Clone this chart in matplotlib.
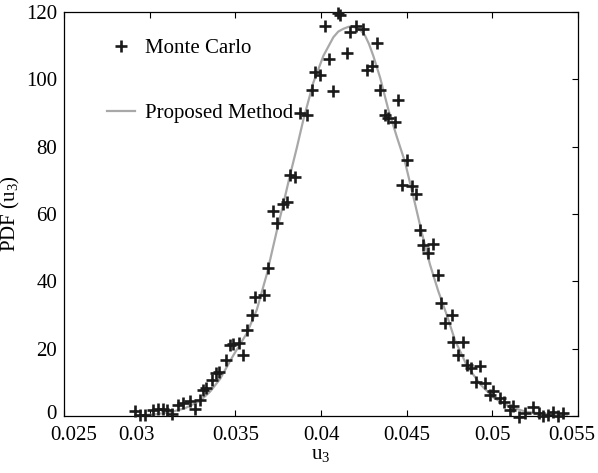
import matplotlib
matplotlib.use("Agg")
import matplotlib.pyplot as plt
import matplotlib.transforms as mtransforms

# Monte Carlo
mc_x = [0.02912, 0.02944, 0.02973, 0.03022, 0.03050, 0.03080, 0.03101, 0.03133,
        0.03167, 0.03195, 0.03235, 0.03265, 0.03294, 0.03314, 0.03326, 0.03364,
        0.03387, 0.03405, 0.03443, 0.03466, 0.03489, 0.03523, 0.03542, 0.03568,
        0.03596, 0.03615, 0.03667, 0.03693,
        0.03722, 0.03745, 0.03780, 0.03803, 0.03819, 0.03848,
        0.03878, 0.03917, 0.03946, 0.03965, 0.03994, 0.04023, 0.04049, 0.04072,
        0.04101, 0.04108, 0.04150, 0.04169, 0.04204, 0.04247, 0.04270, 0.04296,
        0.04325, 0.04344, 0.04374, 0.04393, 0.04432, 0.04451,
        0.04500, 0.04471, 0.04530, 0.04555, 0.04578, 0.04597, 0.04652, 0.04627,
        0.04685, 0.04699, 0.04763, 0.04724, 0.04769, 0.04827, 0.04801, 0.04850,
        0.04874, 0.04928, 0.04905, 0.04957, 0.04987, 0.05006, 0.05045, 0.05068,
        0.05103, 0.05123, 0.05158, 0.05191, 0.05236, 0.05274, 0.05298, 0.05327,
        0.05356, 0.05385, 0.05415]
mc_y = [1.5, 0.2, 0.2, 1.9, 2.2, 2.2, 1.9, 0.6,
        3.3, 3.9, 4.5, 2.2, 4.9, 7.6, 8.2, 10.8,
        12.9, 13.2, 16.6, 21.1, 21.4, 21.6, 18.1, 25.5,
        30.0, 35.4, 35.9, 43.9,
        61.0, 57.4, 63.0, 63.6, 71.6, 71.1,
        89.9, 89.4, 96.8, 102.3, 101.3, 115.8, 105.9, 96.6,
        119.8, 119.2, 107.9, 114.1, 115.8, 115.1, 102.8, 104.0,
        110.7, 96.8, 89.4, 88.4, 87.4, 93.9,
        76.0, 68.6, 68.3, 65.9, 55.2, 50.8, 51.1, 48.5,
        41.9, 33.5, 30.0, 27.7, 22.1, 22.1, 18.1, 15.1,
        14.2, 14.8, 10.2, 9.7, 6.2, 7.5, 5.3, 4.2,
        1.8, 3.0, -0.3, 1.0, 2.6, 1.0, 0.0, 0.3,
        1.3, 0.0, 0.8]

# Método proposto (curva)
pm_x = [0.02955, 0.03031, 0.03119, 0.03206, 0.03294, 0.03352, 0.03411, 0.03488,
        0.03566, 0.03625, 0.03683, 0.03742, 0.03780, 0.03819, 0.03858, 0.03897,
        0.03955, 0.04014, 0.04072, 0.04101, 0.04130, 0.04160, 0.04181, 0.04209,
        0.04234, 0.04257, 0.04280, 0.04305, 0.04345, 0.04393, 0.04442, 0.04490,
        0.04549, 0.04588, 0.04636, 0.04685, 0.04734, 0.04782, 0.04851, 0.04928,
        0.05006, 0.05103, 0.05201, 0.05318, 0.05434]
pm_y = [0.2, 0.5, 1.1, 2.3, 4.5, 7.2, 11.0, 18.0,
        24.5, 31.5, 42.0, 55.0, 63.0, 71.5, 79.5, 88.0,
        99.0, 107.0, 112.5, 114.2, 115.0, 115.6, 115.7, 115.2,
        114.4, 113.0, 110.5, 107.0, 100.5, 91.0, 83.0, 75.5,
        63.0, 54.5, 45.0, 37.0, 30.0, 22.5, 15.0, 9.5,
        5.5, 2.7, 1.2, 0.6, 0.4]

x_ticks = [0.025, 0.03, 0.035, 0.04, 0.045, 0.05, 0.055]
x_tick_labels = ["0.025", "0.03", "0.035", "0.04", "0.045", "0.05", "0.055"]
y_ticks = [0, 20, 40, 60, 80, 100, 120]

plt.rcParams["font.family"] = "Liberation Serif"
plt.rcParams["mathtext.fontset"] = "custom"
plt.rcParams["mathtext.rm"] = "Liberation Serif"
plt.rcParams["mathtext.it"] = "Liberation Serif:italic"

fig = plt.figure(figsize=(5.98, 4.73), dpi=100)
ax = fig.add_axes([0.107, 0.1205, 0.8596, 0.8541])

ax.plot(pm_x, pm_y, color="#a8a8a8", lw=1.6, label="Proposed Method", zorder=2)
ax.plot(mc_x, mc_y, ls="none", marker="+", ms=8.5, mew=1.9, color="#1a1a1a",
        label="Monte Carlo", clip_on=False, zorder=3)

ax.set_xlim(0.025, 0.055)
ax.set_ylim(0, 120)
ax.set_xticks(x_ticks)
ax.set_xticklabels(x_tick_labels)
ax.set_yticks(y_ticks)
ax.tick_params(direction="in", length=4, width=0.8, labelsize=15,
               top=True, right=True, left=False)
ax.tick_params(axis="x", pad=7)
ax.tick_params(axis="y", pad=5)
for s in ax.spines.values():
    s.set_linewidth(0.9)

# alguns rótulos aparecem deslocados no original
deslocamentos = {0: 0.10, 1: -0.135, 6: -0.06}
ticks = ax.xaxis.get_major_ticks()
for i, dx in deslocamentos.items():
    lab = ticks[i].label1
    lab.set_transform(lab.get_transform() +
                      mtransforms.ScaledTranslation(dx, 0, fig.dpi_scale_trans))
lab0 = ax.yaxis.get_major_ticks()[0].label1
lab0.set_transform(lab0.get_transform() +
                   mtransforms.ScaledTranslation(0, 0.045, fig.dpi_scale_trans))

ax.set_xlabel("u$_\\mathrm{3}$", fontsize=15, labelpad=0)
ax.set_ylabel("PDF (u$_\\mathrm{3}$)", fontsize=15, labelpad=3)

h, l = ax.get_legend_handles_labels()
ax.legend([h[1], h[0]], [l[1], l[0]], loc="upper left", bbox_to_anchor=(0.084, 0.935),
          frameon=False, fontsize=15, handlelength=1.35, handletextpad=0.45,
          labelspacing=2.2, borderpad=0, borderaxespad=0)

fig.savefig("out.png", dpi=100)
